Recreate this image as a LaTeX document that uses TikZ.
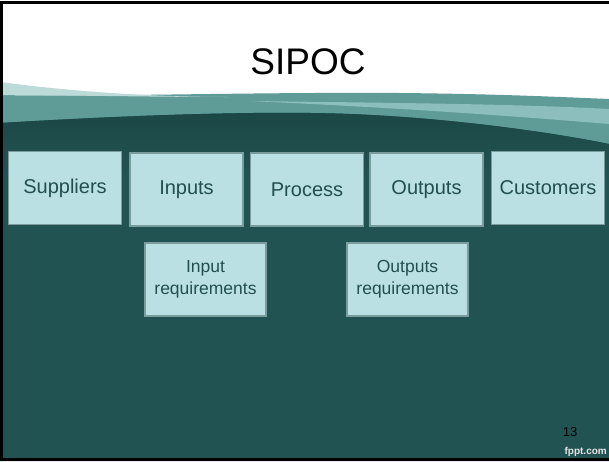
\documentclass[tikz,border=0pt]{standalone}
\usepackage{fontspec}
\setmainfont{Liberation Sans}
\usepackage{tikz}
\usetikzlibrary{positioning,calc}
\definecolor{slidedark}{HTML}{215352}
\definecolor{slidedeep}{HTML}{1B4745}
\definecolor{wavelight}{HTML}{BCDAD8}
\definecolor{wavemid}{HTML}{5F9B97}
\definecolor{wavepale}{HTML}{8CBEBD}
\definecolor{boxfill}{HTML}{BAE0E3}
\definecolor{boxline}{HTML}{7A9C9D}
\definecolor{boxtext}{HTML}{224F4E}

\begin{document}
\begin{tikzpicture}[
  x=1pt, y=-1pt,
  stage/.style={draw=boxline, fill=boxfill, line width=1.3pt,
    minimum width=113pt, minimum height=73pt, inner sep=0pt, align=center,
    text=boxtext, font=\fontsize{20}{22}\selectfont},
  req/.style={stage, minimum width=121pt,
    font=\fontsize{17.5}{22}\selectfont}
]
\useasboundingbox (0,0) rectangle (609,461);
\clip (0,0) rectangle (609,461);
%% ─── Slide background and waves ────────────────────────────────────────────
\fill[white] (0,0) rectangle (609,461);
\fill[wavemid] (0,95) .. controls (100,97) and (250,92) .. (400,93)
  .. controls (500,94) and (560,97) .. (609,99) -- (609,150) -- (0,150) -- cycle;
\fill[wavelight] (0,82) .. controls (60,90) and (140,97) .. (230,97)
  .. controls (150,97) and (60,95) .. (0,95) -- cycle;
\fill[wavepale] (250,101) .. controls (400,103) and (520,104) .. (609,109)
  -- (609,124) .. controls (500,115) and (400,108) .. (250,101) -- cycle;
\fill[slidedark] (0,123) .. controls (100,117) and (250,110) .. (350,114)
  .. controls (450,118) and (550,132) .. (609,144) -- (609,461) -- (0,461) -- cycle;
\shade[top color=slidedeep, bottom color=slidedark]
  (0,123) .. controls (100,117) and (250,110) .. (350,114)
  .. controls (450,118) and (550,132) .. (609,144) -- (609,175) -- (0,175) -- cycle;
%% ─── Title ─────────────────────────────────────────────────────────────────
\node (title) at (308,62) {\fontsize{37}{40}\selectfont SIPOC};
%% ─── SIPOC row ─────────────────────────────────────────────────────────────
\node[stage] (sup)  at (65,188)    {Suppliers};
\node[stage] (inp)  at (186.5,189.5) {Inputs};
\node[stage] (proc) at (307,189.5)  {Process};
\node[stage] (outp) at (426.5,189.5) {Outputs};
\node[stage] (cust) at (548,188)    {Customers};
%% ─── Requirements ──────────────────────────────────────────────────────────
\node[req] (inreq)  at (205.5,279.5) {Input\\requirements};
\node[req] (outreq) at (407.5,279.5) {Outputs\\requirements};
%% ─── Footer ────────────────────────────────────────────────────────────────
\node[font=\fontsize{13}{15}\selectfont, text=black] (pagenum) at (570,432) {13};
\node[anchor=east, inner sep=0pt, text=white!90!black,
  font=\bfseries\fontsize{10}{12}\selectfont] (brand) at (607,452) {fppt.com};
\draw[black, line width=3pt] (1.5,2) rectangle (620,459.5);
\end{tikzpicture}
\end{document}
